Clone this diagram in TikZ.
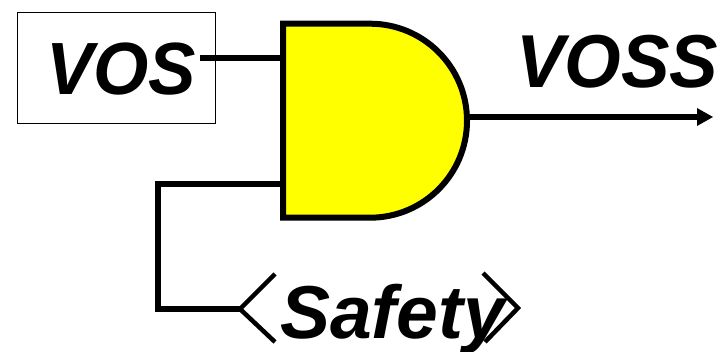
\documentclass[tikz,border=0pt]{standalone}
\usepackage{fontspec}
\usepackage{graphicx}
\setmainfont{Liberation Sans}
\definecolor{gateyellow}{RGB}{255,255,0}
\tikzset{
  lbl/.style={font=\fontsize{#1}{#1}\selectfont\bfseries\itshape,inner sep=0pt,anchor=base west,text=black},
  wire/.style={line width=5.5pt,draw=black,line cap=butt,line join=miter},
  chevron/.style={line width=4.5pt,draw=black,line cap=butt,line join=miter},
  gateshape/.style={line width=6pt,draw=black,fill=gateyellow,line join=miter}
}
\begin{document}
\begin{tikzpicture}[x=1pt,y=-1pt]
\useasboundingbox (0,0) rectangle (722,352);
% VOS box
\node[draw=black,line width=1.5pt,minimum width=198pt,minimum height=111pt,inner sep=0pt,anchor=north west] (vosbox) at (16.5,12) {};
\node[lbl=74] (vos) at (46,95) {\scalebox{0.96}[1]{VOS}};
\node[lbl=75] (voss) at (516,88) {\scalebox{0.97}[1]{VOSS}};
\node[lbl=75] (safety) at (280,338) {Safety};
% gate
\coordinate (gtl) at (283,23.7);
\coordinate (gbl) at (283,217.7);
\coordinate (in1) at (283,58);
\coordinate (in2) at (283,184);
\coordinate (out) at (467,117);
\coordinate (vosend) at (200,58);
\coordinate (tip) at (713,117);
\coordinate (bend1) at (158,184);
\coordinate (bend2) at (158,309);
\coordinate (la) at (240,309);
\coordinate (lt) at (275,274);
\coordinate (lb) at (275,342);
\coordinate (ra) at (518,308);
\coordinate (rt) at (483,273);
\coordinate (rb) at (485,342);
% wires
\draw[wire] (vosend) -- (in1);
\draw[wire] (in2) -- (bend1) -- (bend2) -- (la);
\draw[wire] (out) -- (700,117);
\fill[black] (tip) -- (697,108) -- (697,126) -- cycle;
\draw[gateshape] (gtl) -- (370,23.7) arc[start angle=-90,end angle=90,x radius=97,y radius=97] -- (gbl) -- cycle;
\draw[chevron] (lt) -- (la) -- (lb);
\draw[chevron] (rt) -- (ra) -- (rb);
\end{tikzpicture}
\end{document}
